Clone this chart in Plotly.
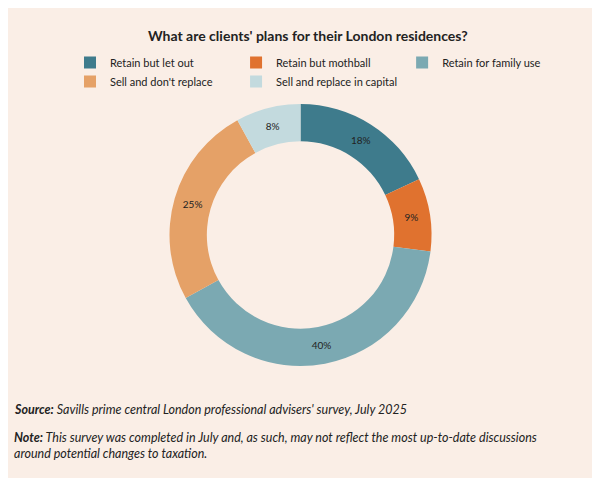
import plotly.graph_objects as go

categories = ["Retain but let out", "Retain but mothball", "Retain for family use",
              "Sell and don't replace", "Sell and replace in capital"]
values = [18, 9, 40, 25, 8]
colors = ["#3e7b8c", "#e0722f", "#7ba9b2", "#e5a167", "#c3dade"]

W, H = 600, 478
fig = go.Figure(go.Pie(
    labels=categories, values=values, hole=0.715, sort=False, direction="clockwise",
    rotation=0, marker=dict(colors=colors, line=dict(color="#faeee6", width=0)),
    texttemplate="%{value}%", textposition="inside", insidetextorientation="horizontal",
    textfont=dict(family="Lato", size=10, color="#222"),
    domain=dict(x=[161/W, 424/W], y=[1-358/H, 1-96/H]),
))
fig.update_layout(
    width=W, height=H, margin=dict(l=0, r=0, t=0, b=0),
    paper_bgcolor="#faeee6", plot_bgcolor="#faeee6",
    font=dict(family="Lato", color="#222"),
    showlegend=True,
    legend=dict(orientation="h", x=0.5, xanchor="center", y=1-40/H, yanchor="top",
                font=dict(size=11, color="#222"), traceorder="normal",
                itemwidth=30, tracegroupgap=0),
    annotations=[
        dict(text="<b>What are clients' plans for their London residences?</b>", x=0.5, y=1-17/H,
             xref="paper", yref="paper", showarrow=False, font=dict(size=14, color="#222")),
        dict(text="<b><i>Source:</i></b><i> Savills prime central London professional advisers' survey, July 2025</i>",
             x=4/W, y=1-411/H, xref="paper", yref="paper", xanchor="left", showarrow=False,
             font=dict(size=12.5, color="#222")),
        dict(text="<b><i>Note:</i></b><i> This survey was completed in July and, as such, may not reflect the most up-to-date discussions<br>around potential changes to taxation.</i>",
             x=4/W, y=1-455/H, xref="paper", yref="paper", xanchor="left", align="left", showarrow=False,
             font=dict(size=12.5, color="#222")),
    ],
)
fig.write_html("out.html")
